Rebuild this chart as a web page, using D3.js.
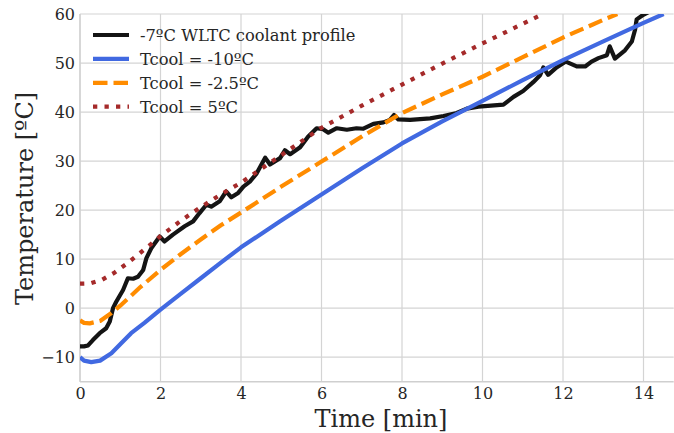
<!DOCTYPE html>
<html>
<head>
<meta charset="utf-8">
<script src="https://cdn.jsdelivr.net/npm/d3@7"></script>
<style>
  html, body { margin: 0; padding: 0; background: #fff; }
  svg { display: block; }
  text { font-family: "DejaVu Serif", serif; fill: #262626; }
</style>
</head>
<body>
<svg id="chart" width="674" height="433"></svg>
<script>
// Time in minutes, temperature in ºC
const wltcProfile = [
  [0, -7.8], [0.1, -7.8], [0.2, -7.6], [0.32, -6.5], [0.49, -5.1], [0.65, -4.1],
  [0.74, -2.7], [0.82, 0], [0.9, 1.3], [1.07, 3.7], [1.19, 6.1], [1.32, 6.0],
  [1.44, 6.4], [1.57, 7.8], [1.65, 10.2], [1.77, 12.2], [1.98, 14.6], [2.1, 13.6],
  [2.31, 15], [2.6, 16.7], [2.81, 17.7], [2.97, 19.4], [3.14, 21.1], [3.26, 20.7],
  [3.47, 21.8], [3.63, 23.8], [3.76, 22.6], [3.93, 23.5], [4.06, 24.8], [4.22, 25.8],
  [4.39, 27.5], [4.6, 30.7], [4.72, 29.3], [4.97, 30.6], [5.09, 32.2], [5.22, 31.4],
  [5.47, 32.8], [5.67, 35], [5.88, 36.7], [6.04, 36.5], [6.17, 35.8], [6.38, 36.7],
  [6.63, 36.4], [6.87, 36.7], [7.04, 36.6], [7.29, 37.6], [7.54, 37.9], [7.7, 38.4],
  [7.8, 39.4], [7.91, 38.5], [8.2, 38.4], [8.7, 38.7], [9.03, 39.2], [9.36, 39.8],
  [9.61, 40.7], [9.9, 41.1], [10.52, 41.5], [10.77, 43.1], [11.01, 44.3], [11.26, 46.1],
  [11.43, 47.5], [11.51, 49.1], [11.63, 47.6], [11.84, 49.1], [12.07, 50.3], [12.34, 49.3],
  [12.55, 49.3], [12.71, 50.3], [12.88, 51], [13.09, 51.6], [13.16, 53.4], [13.29, 50.9],
  [13.54, 52.6], [13.71, 54.4], [13.79, 56.8], [13.83, 58.9], [13.97, 59.7], [14.15, 60.5]
];

const tcoolMinus10 = [
  [0, -10], [0.1, -10.7], [0.28, -11], [0.5, -10.7], [0.78, -9.2], [1.03, -7.1],
  [1.27, -5.1], [1.6, -3.0], [2, -0.3], [2.5, 2.9], [3, 6.1], [3.5, 9.3], [4, 12.4],
  [5, 17.9], [6, 23.2], [7, 28.5], [8, 33.6], [9, 38.1], [10, 42.3], [11, 46.5],
  [12, 50.6], [13, 54.4], [14, 58.2], [14.5, 60]
];

const tcoolMinus2_5 = [
  [0, -2.5], [0.1, -3], [0.24, -3.1], [0.5, -2.6], [0.78, -1], [1, 0.5], [1.5, 4.3],
  [2, 7.8], [2.5, 11], [3, 14], [3.5, 16.9], [4, 19.5], [5, 24.8], [6, 29.9],
  [7, 35], [8, 39.8], [9, 43.6], [10, 47.2], [11, 51.2], [12, 55.2], [13, 58.8], [13.35, 60]
];

const tcool5 = [
  [0, 5], [0.25, 5.05], [0.55, 5.8], [0.85, 7.2], [1.15, 9], [1.5, 11.3], [1.8, 13.3],
  [2, 14.7], [2.5, 17.8], [3, 20.6], [3.5, 23.2], [4, 25.6], [5, 31.2], [6, 36.8],
  [7, 41.3], [8, 45.6], [9, 49.9], [10, 54], [11, 58], [11.5, 60]
];

const seriesNames = ["-7ºC WLTC coolant profile", "Tcool = -10ºC", "Tcool = -2.5ºC", "Tcool = 5ºC"];
const xTicks = [0, 2, 4, 6, 8, 10, 12, 14];
const yTicks = [-10, 0, 10, 20, 30, 40, 50, 60];

const series = [
  { name: seriesNames[0], data: wltcProfile,   color: "#141414", dash: null },
  { name: seriesNames[1], data: tcoolMinus10,  color: "#4169e1", dash: null },
  { name: seriesNames[2], data: tcoolMinus2_5, color: "#ff8c00", dash: "14.5,6" },
  { name: seriesNames[3], data: tcool5,        color: "#a52a2a", dash: "4.3,7.2" }
];

const svg = d3.select("#chart");
const plotLeft = 80, plotTop = 14, plotBottom = 381.7, plotRight = 673.7;

const x = d3.scaleLinear().domain([0, 14.75]).range([plotLeft, plotRight]);
const y = d3.scaleLinear().domain([-15, 60]).range([plotBottom, plotTop]);

// grid
const grid = svg.append("g");
grid.selectAll("line.gx").data(xTicks).join("line")
  .attr("x1", d => x(d)).attr("x2", d => x(d))
  .attr("y1", plotTop).attr("y2", plotBottom)
  .attr("stroke", "#d4d4d4").attr("stroke-width", 1.2);
grid.selectAll("line.gy").data(yTicks).join("line")
  .attr("x1", plotLeft).attr("x2", plotRight)
  .attr("y1", d => y(d)).attr("y2", d => y(d))
  .attr("stroke", "#d4d4d4").attr("stroke-width", 1.2);

// spines
svg.append("line").attr("x1", plotLeft).attr("x2", plotLeft).attr("y1", plotTop).attr("y2", plotBottom)
  .attr("stroke", "#cfcfcf").attr("stroke-width", 1.3);
svg.append("line").attr("x1", plotLeft).attr("x2", plotRight).attr("y1", plotBottom).attr("y2", plotBottom)
  .attr("stroke", "#cfcfcf").attr("stroke-width", 1.6);

// axes (labels only)
const xAxis = d3.axisBottom(x).tickValues(xTicks).tickSize(0).tickPadding(5.5)
  .tickFormat(d3.format("d"));
const gx = svg.append("g").attr("transform", `translate(0,${plotBottom})`).call(xAxis);
gx.select(".domain").remove();
gx.selectAll("text").style("font-family", "DejaVu Serif").style("font-size", "16px").attr("fill", "#262626");

const yAxis = d3.axisLeft(y).tickValues(yTicks).tickSize(0).tickPadding(5)
  .tickFormat(d => d < 0 ? "\u2212" + Math.abs(d) : String(d));
const gy = svg.append("g").attr("transform", `translate(${plotLeft},0)`).call(yAxis);
gy.select(".domain").remove();
gy.selectAll("text").style("font-family", "DejaVu Serif").style("font-size", "16px").attr("fill", "#262626");

// axis titles
svg.append("text").attr("x", 381).attr("y", 426.5)
  .attr("text-anchor", "middle").style("font-size", "24px").text("Time [min]");
svg.append("text")
  .attr("transform", `translate(33,198.5) rotate(-90)`)
  .attr("text-anchor", "middle").style("font-size", "24px").text("Temperature [ºC]");

// lines
svg.append("clipPath").attr("id", "plotClip").append("rect")
  .attr("x", plotLeft).attr("y", plotTop).attr("width", plotRight - plotLeft).attr("height", plotBottom - plotTop);

const line = d3.line().x(d => x(d[0])).y(d => y(d[1]));
const plot = svg.append("g").attr("clip-path", "url(#plotClip)");
series.forEach(s => {
  plot.append("path").datum(s.data)
    .attr("d", line)
    .attr("fill", "none")
    .attr("stroke", s.color)
    .attr("stroke-width", 4.2)
    .attr("stroke-linejoin", "round")
    .attr("stroke-dasharray", s.dash);
});

// legend
const legend = svg.append("g");
series.forEach((s, i) => {
  const ly = 35 + i * 23.9;
  legend.append("line")
    .attr("x1", 93).attr("x2", 129).attr("y1", ly).attr("y2", ly)
    .attr("stroke", s.color).attr("stroke-width", 4.2)
    .attr("stroke-dasharray", s.dash);
  legend.append("text").attr("x", 140).attr("y", ly + 5.8)
    .style("font-size", "16.3px").text(s.name);
});
</script>
</body>
</html>
